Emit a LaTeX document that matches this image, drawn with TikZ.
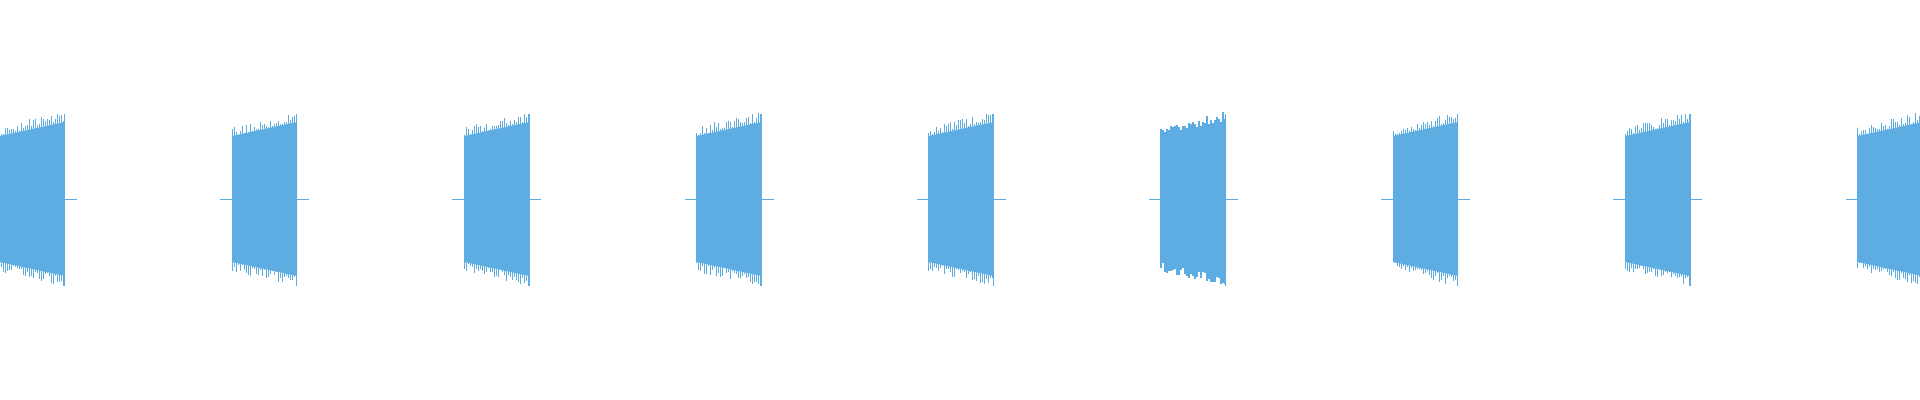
\documentclass[tikz,border=0pt]{standalone}
\definecolor{wave}{HTML}{5DADE2}
\begin{document}
\begin{tikzpicture}[x=0.01cm,y=-0.01cm,spike/.style={draw=wave,line width=0.35pt},tail/.style={draw=wave,line width=0.2pt}]
\useasboundingbox (0,0) rectangle (1920,400);
\clip (0,0) rectangle (1920,400);
\pgfmathsetseed{7}
\foreach \s in {-0.2,232.2,464.4,696.6,928.8,1161,1393.2,1625.4,1857.6}{
  \draw[tail] (\s-12,199) -- (\s+77,199);
  \fill[wave] (\s,136) -- (\s+65,122) -- (\s+65,276) -- (\s,262) -- cycle;
  \foreach \i in {0,...,32}{
    \pgfmathsetmacro{\xx}{\s+2*\i}
    \pgfmathsetmacro{\amp}{63+\i*0.45+rnd*10}
    \pgfmathsetmacro{\ampb}{63+\i*0.45+rnd*10}
    \draw[spike] (\xx,199-\amp) -- (\xx,199+\ampb);
  }
  \draw[spike] (\s+64.5,114) -- (\s+64.5,286);
}
\end{tikzpicture}
\end{document}
